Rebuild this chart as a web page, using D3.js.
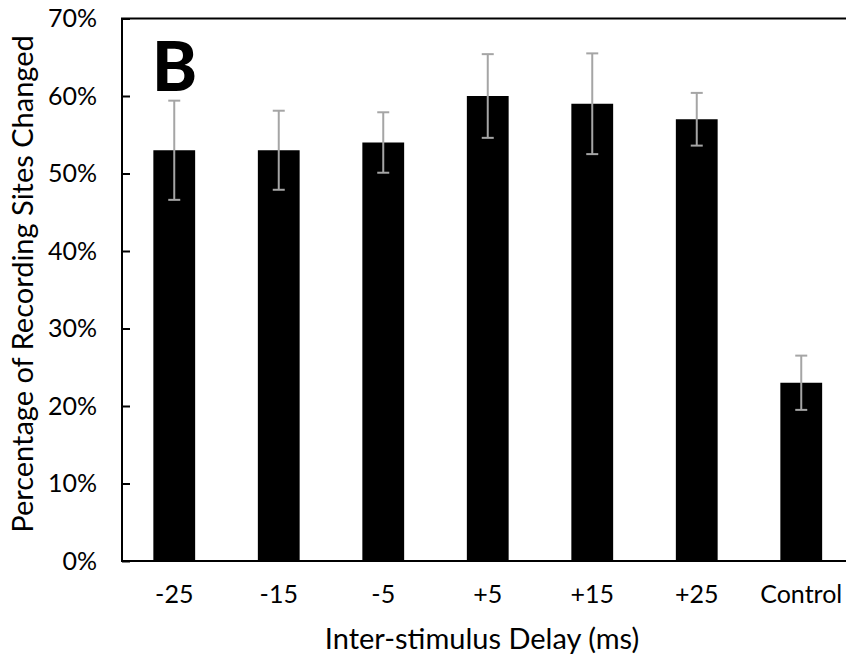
<!DOCTYPE html>
<html>
<head>
<meta charset="utf-8">
<script src="https://cdn.jsdelivr.net/npm/d3@7"></script>
<style>
  body { margin: 0; background: #fff; }
  svg { display: block; font-family: Lato, 'Open Sans', sans-serif; }
</style>
</head>
<body>
<svg id="chart" width="846" height="660"></svg>
<script>
const categories = ['-25', '-15', '-5', '+5', '+15', '+25', 'Control']
const values = [0.53, 0.53, 0.54, 0.60, 0.59, 0.57, 0.23]
const errors = [0.064, 0.051, 0.039, 0.054, 0.065, 0.034, 0.035]
const yTicks = [0, 0.1, 0.2, 0.3, 0.4, 0.5, 0.6, 0.7]

const data = categories.map((c, i) => ({ cat: c, value: values[i], err: errors[i] }))

const margin = { top: 18.5, left: 122, bottom: 99 }
const width = 731.5
const height = 660 - margin.top - margin.bottom
const errColor = '#a5a5a5'

const svg = d3.select('#chart')

const x =
  d3.scaleBand()
    .domain(categories)
    .range([0, width])
    .paddingInner(0.6)
    .paddingOuter(0.3)
const y =
  d3.scaleLinear()
    .domain([0, 0.7])
    .range([height, 0])

const g =
  svg.append('g')
    .attr('transform', `translate(${margin.left}, ${margin.top})`)

// bars
g.selectAll('.bar')
  .data(data)
  .enter()
  .append('rect')
    .attr('class', 'bar')
    .attr('x', d => x(d.cat))
    .attr('y', d => y(d.value))
    .attr('width', x.bandwidth())
    .attr('height', d => y(0) - y(d.value))
    .attr('fill', '#000')

// error bars
const capW = 12
const eb =
  g.selectAll('.err')
    .data(data)
    .enter()
    .append('g')
      .attr('class', 'err')
      .attr('transform', d => `translate(${x(d.cat) + x.bandwidth() / 2}, 0)`)
      .attr('stroke', errColor)
      .attr('stroke-width', 2)
eb.append('line')
  .attr('y1', d => y(d.value + d.err))
  .attr('y2', d => y(d.value - d.err))
eb.append('line')
  .attr('x1', -capW / 2)
  .attr('x2', capW / 2)
  .attr('y1', d => y(d.value + d.err))
  .attr('y2', d => y(d.value + d.err))
eb.append('line')
  .attr('x1', -capW / 2)
  .attr('x2', capW / 2)
  .attr('y1', d => y(d.value - d.err))
  .attr('y2', d => y(d.value - d.err))

// frame (left, top, bottom; right edge falls outside the picture)
g.append('rect')
  .attr('x', 0)
  .attr('y', 0)
  .attr('width', width)
  .attr('height', height)
  .attr('fill', 'none')
  .attr('stroke', '#000')
  .attr('stroke-width', 2)

// y axis
const yAxis =
  d3.axisLeft(y)
    .tickValues(yTicks)
    .tickSize(-8)
    .tickPadding(25)
    .tickFormat(d3.format('.0%'))
g.append('g')
  .call(yAxis)
  .call(a => a.select('.domain').remove())
  .call(a => a.selectAll('.tick line').attr('stroke', '#000').attr('stroke-width', 2))
  .call(a => a.selectAll('.tick text')
    .attr('fill', '#000')
    .attr('font-size', 25)
    .attr('font-family', 'Lato, sans-serif'))

// x axis
const xAxis =
  d3.axisBottom(x)
    .tickSize(0)
    .tickPadding(24)
g.append('g')
  .attr('transform', `translate(0, ${height})`)
  .call(xAxis)
  .call(a => a.select('.domain').remove())
  .call(a => a.selectAll('.tick text')
    .attr('fill', '#000')
    .attr('font-size', 25)
    .attr('font-family', 'Lato, sans-serif'))

// axis titles
svg.append('text')
  .attr('x', 482)
  .attr('y', 649)
  .attr('text-anchor', 'middle')
  .attr('font-size', 29)
  .text('Inter-stimulus Delay (ms)')

svg.append('text')
  .attr('transform', 'translate(33, 284) rotate(-90)')
  .attr('text-anchor', 'middle')
  .attr('font-size', 29)
  .text('Percentage of Recording Sites Changed')

// panel letter
svg.append('text')
  .attr('x', 152)
  .attr('y', 91)
  .attr('font-size', 68)
  .attr('font-weight', 900)
  .text('B')
</script>
</body>
</html>
